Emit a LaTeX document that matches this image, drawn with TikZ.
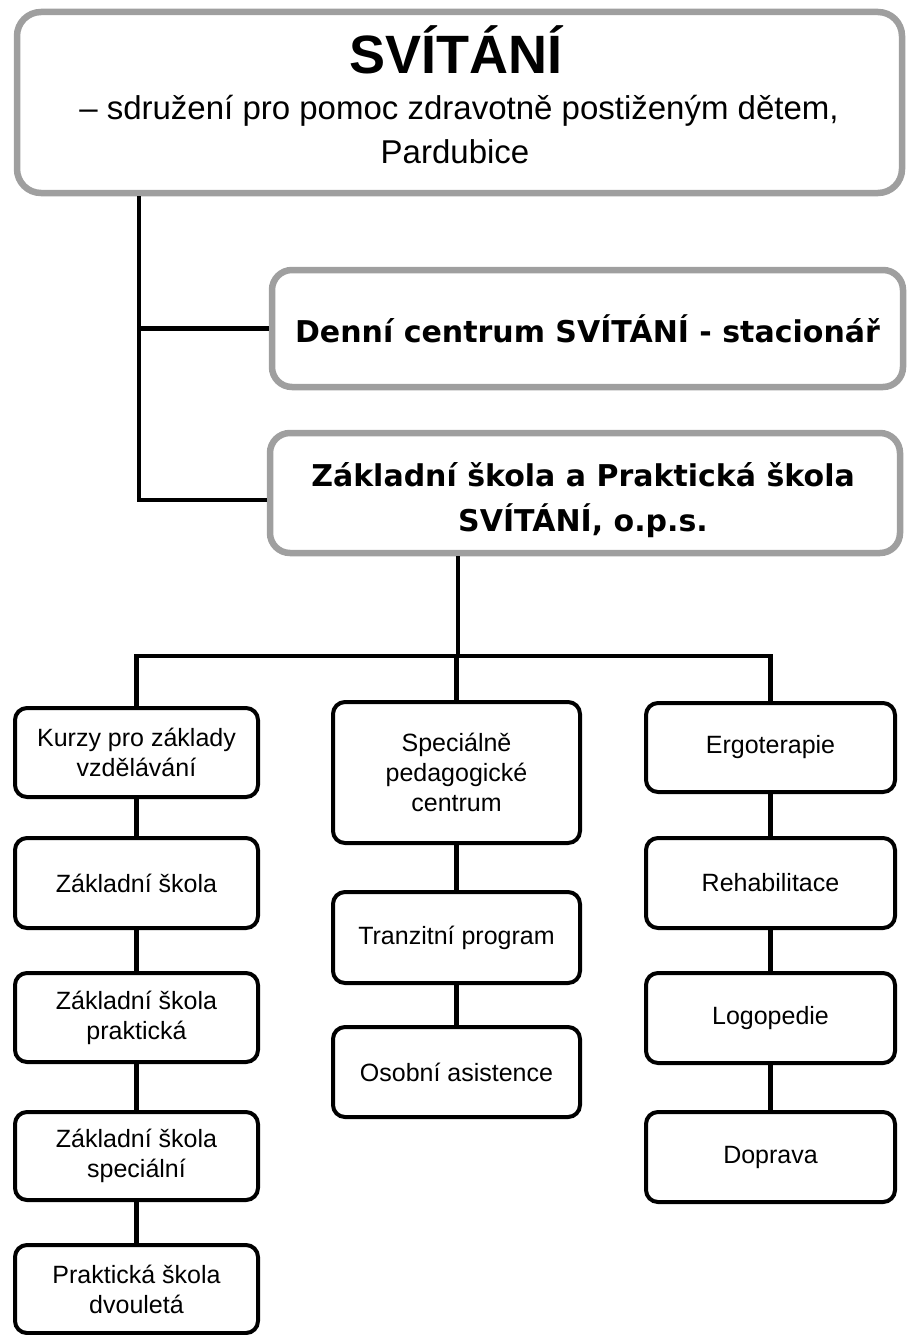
\documentclass[tikz,border=0pt]{standalone}
\usepackage{fontspec}
\setmainfont{Liberation Sans}
\newfontfamily\dvfont{DejaVu Sans}
\begin{document}
\begin{tikzpicture}[x=1pt,y=-1pt,
  graybox/.style={draw=gray!75, line width=6.5pt, rounded corners=20pt, inner sep=0pt},
  smallbox/.style={draw=black, line width=4pt, rounded corners=12pt, inner sep=0pt, align=center,
     font=\fontsize{25}{30}\selectfont},
  conn/.style={draw=black, line width=4.5pt, line join=miter},
  boldtxt/.style={font=\dvfont\bfseries\fontsize{30}{45}\selectfont, align=center, inner sep=0pt}
]
\useasboundingbox (0,0) rectangle (907,1335);
% top box
\node[graybox, rounded corners=24pt, minimum width=885pt, minimum height=181pt] (top) at (459.5,102.5) {};
\node[inner sep=0pt, font=\bfseries\fontsize{54}{54}\selectfont] (t1) at (456,50) {SVÍTÁNÍ};
\node[inner sep=0pt, font=\fontsize{33}{33}\selectfont] (t2) at (459,111) {– sdružení pro pomoc zdravotně postiženým dětem,};
\node[inner sep=0pt, font=\fontsize{33}{33}\selectfont] (t3) at (455,152) {Pardubice};
% second level
\node[graybox, minimum width=631pt, minimum height=117pt, boldtxt] (denni) at (587.5,328.5) {Denní centrum SVÍTÁNÍ - stacionář};
\node[graybox, minimum width=630pt, minimum height=120pt] (zs) at (585,493) {};
\node[boldtxt] (zstxt) at (583,500) {Základní škola a Praktická škola\\SVÍTÁNÍ, o.p.s.};
% left column
\node[smallbox, minimum width=243pt, minimum height=89pt] (kurzy) at (136.5,752.5) {Kurzy pro základy\\vzdělávání};
\node[smallbox, minimum width=243pt, minimum height=90pt] (zs1) at (136.5,883) {Základní škola};
\node[smallbox, minimum width=243pt, minimum height=89pt] (zsp) at (136.5,1017.5) {Základní škola\\praktická};
\node[smallbox, minimum width=243pt, minimum height=88pt] (zss) at (136.5,1156) {Základní škola\\speciální};
\node[smallbox, minimum width=243pt, minimum height=88pt] (psd) at (136.5,1289) {Praktická škola\\dvouletá};
% center column
\node[smallbox, minimum width=247pt, minimum height=141pt] (spc) at (456.5,772.5) {Speciálně\\pedagogické\\centrum};
\node[smallbox, minimum width=247pt, minimum height=91pt] (tp) at (456.5,937.5) {Tranzitní program};
\node[smallbox, minimum width=247pt, minimum height=90pt] (oa) at (456.5,1072) {Osobní asistence};
% right column
\node[smallbox, minimum width=249pt, minimum height=89pt] (erg) at (770.5,747.5) {Ergoterapie};
\node[smallbox, minimum width=249pt, minimum height=90pt] (reh) at (770.5,883) {Rehabilitace};
\node[smallbox, minimum width=249pt, minimum height=90pt] (log) at (770.5,1018) {Logopedie};
\node[smallbox, minimum width=249pt, minimum height=90pt] (dop) at (770.5,1157) {Doprava};
% connectors
\coordinate (j2) at (139,500);
\coordinate (bar) at (458,656);
\draw[conn] (j2 |- top.south) -- (j2) -- (j2 -| zs.west);
\draw[conn] (denni.west) -- (denni.west -| j2);
\draw[conn] (bar |- zs.south) -- (bar);
\draw[conn] (kurzy.north) |- (bar) -| (erg.north);
\draw[conn] (spc.north) -- (spc.north |- bar);
\draw[conn] (kurzy) -- (zs1);
\draw[conn] (zs1) -- (zsp);
\draw[conn] (zsp) -- (zss);
\draw[conn] (zss) -- (psd);
\draw[conn] (spc) -- (tp);
\draw[conn] (tp) -- (oa);
\draw[conn] (erg) -- (reh);
\draw[conn] (reh) -- (log);
\draw[conn] (log) -- (dop);
\end{tikzpicture}
\end{document}
